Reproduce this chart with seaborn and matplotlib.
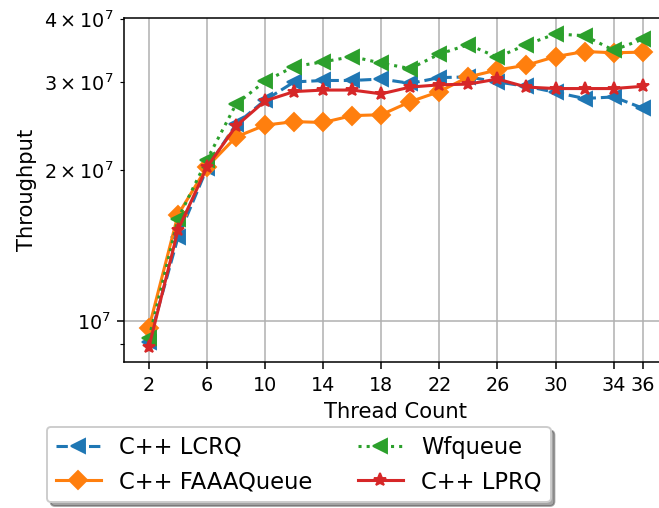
import matplotlib
matplotlib.use("Agg")
import matplotlib.pyplot as plt
import seaborn as sns
import numpy as np

threads = [2, 4, 6, 8, 10, 12, 14, 16, 18, 20, 22, 24, 26, 28, 30, 32, 34, 36]
xticks = [2, 6, 10, 14, 18, 22, 26, 30, 34, 36]

lcrq = [9.1e6, 1.47e7, 2.02e7, 2.47e7, 2.76e7, 3.00e7, 3.02e7, 3.02e7, 3.04e7,
        2.98e7, 3.06e7, 3.07e7, 3.00e7, 2.94e7, 2.86e7, 2.78e7, 2.80e7, 2.66e7]
faaa = [9.7e6, 1.63e7, 2.03e7, 2.33e7, 2.46e7, 2.50e7, 2.49e7, 2.57e7, 2.58e7,
        2.74e7, 2.87e7, 3.07e7, 3.17e7, 3.24e7, 3.37e7, 3.45e7, 3.43e7, 3.44e7]
wfq = [9.25e6, 1.60e7, 2.10e7, 2.71e7, 3.01e7, 3.22e7, 3.29e7, 3.37e7, 3.27e7,
       3.19e7, 3.41e7, 3.56e7, 3.36e7, 3.56e7, 3.74e7, 3.71e7, 3.47e7, 3.65e7]
lprq = [8.89e6, 1.52e7, 2.03e7, 2.45e7, 2.75e7, 2.87e7, 2.89e7, 2.89e7, 2.84e7,
        2.93e7, 2.96e7, 2.97e7, 3.04e7, 2.93e7, 2.91e7, 2.91e7, 2.91e7, 2.94e7]

names = ["C++ LCRQ", "C++ FAAAQueue", "Wfqueue", "C++ LPRQ"]
series = [lcrq, faaa, wfq, lprq]
colors = ["#1f77b4", "#ff7f0e", "#2ca02c", "#d62728"]
markers = ["<", "D", "<", "*"]
styles = ["--", "-", ":", "-"]
msizes = [7, 6.5, 7, 7]

DPI = 138
fig = plt.figure(figsize=(659 / DPI, 508 / DPI), dpi=DPI)
ax = fig.add_axes([124.3 / 659, 1 - 362.3 / 508, 543 / 659, (362.3 - 18.3) / 508])

for name, vals, c, m, ls, ms in zip(names, series, colors, markers, styles, msizes):
    sns.lineplot(x=threads, y=vals, ax=ax, color=c, marker=m, linestyle=ls,
                 markersize=ms, markeredgecolor=c, markeredgewidth=1,
                 linewidth=1.6, label=name)

ax.set_yscale("log")
ax.set_xticks(xticks)
ax.set_xticklabels([str(t) for t in xticks], fontsize=10)
ax.tick_params(axis="y", which="both", labelsize=10)
ax.grid(True, color="#b0b0b0", linewidth=0.8)
ax.set_xlabel("Thread Count", fontsize=11)
ax.set_ylabel("Throughput", fontsize=11)

if ax.legend_:
    ax.legend_.remove()
handles, labels = ax.get_legend_handles_labels()
fig.legend(handles, labels, loc="upper left", ncol=2, fontsize=11.8,
           bbox_to_anchor=(46.7 / 659, 1 - 426.7 / 508),
           bbox_transform=fig.transFigure, borderaxespad=0,
           shadow=True, fancybox=True, numpoints=1)

fig.savefig("out.png", dpi=DPI)
